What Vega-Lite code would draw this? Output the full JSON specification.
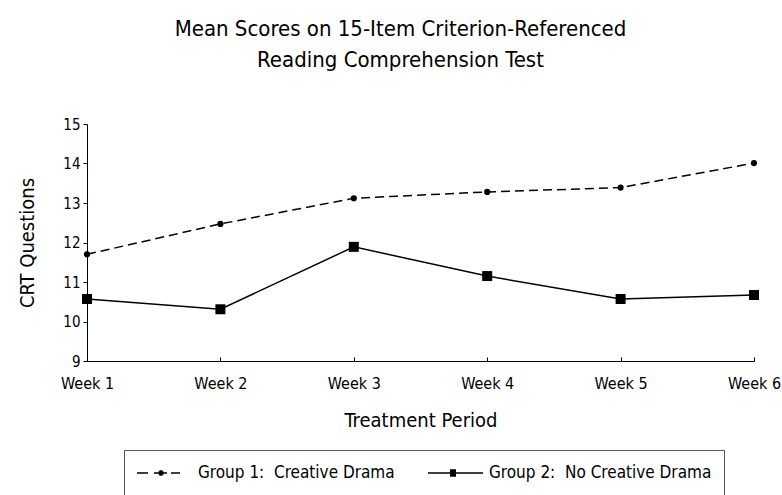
{
  "$schema": "https://vega.github.io/schema/vega-lite/v6.json",
  "width": 667,
  "height": 237,
  "autosize": {"type": "none"},
  "padding": {"left": 87, "top": 124, "right": 28, "bottom": 134},
  "background": "white",
  "config": {"font": "DejaVu Sans Condensed", "view": {"stroke": null}},
  "title": {
    "text": ["Mean Scores on 15-Item Criterion-Referenced", "Reading Comprehension Test"],
    "fontSize": 22,
    "fontWeight": "normal",
    "color": "black",
    "lineHeight": 31,
    "anchor": "middle",
    "dx": -20,
    "offset": 45
  },
  "data": {
    "values": [
      {"week": "Week 1", "group": "Group 1:\u00a0 Creative Drama", "score": 11.70},
      {"week": "Week 2", "group": "Group 1:\u00a0 Creative Drama", "score": 12.47},
      {"week": "Week 3", "group": "Group 1:\u00a0 Creative Drama", "score": 13.12},
      {"week": "Week 4", "group": "Group 1:\u00a0 Creative Drama", "score": 13.28},
      {"week": "Week 5", "group": "Group 1:\u00a0 Creative Drama", "score": 13.39},
      {"week": "Week 6", "group": "Group 1:\u00a0 Creative Drama", "score": 14.01},
      {"week": "Week 1", "group": "Group 2:\u00a0 No Creative Drama", "score": 10.57},
      {"week": "Week 2", "group": "Group 2:\u00a0 No Creative Drama", "score": 10.31},
      {"week": "Week 3", "group": "Group 2:\u00a0 No Creative Drama", "score": 11.89},
      {"week": "Week 4", "group": "Group 2:\u00a0 No Creative Drama", "score": 11.15},
      {"week": "Week 5", "group": "Group 2:\u00a0 No Creative Drama", "score": 10.57},
      {"week": "Week 6", "group": "Group 2:\u00a0 No Creative Drama", "score": 10.67}
    ]
  },
  "encoding": {
    "x": {
      "field": "week",
      "type": "ordinal",
      "scale": {"type": "point", "padding": 0},
      "axis": {
        "title": "Treatment Period",
        "labelAngle": 0,
        "domainColor": "black",
        "tickColor": "black",
        "tickSize": -4,
        "labelPadding": 18,
        "labelFontSize": 16,
        "labelColor": "black",
        "titleFontSize": 20,
        "titleFontWeight": "normal",
        "titleColor": "black",
        "titlePadding": 19
      }
    },
    "y": {
      "field": "score",
      "type": "quantitative",
      "scale": {"domain": [9, 15], "nice": false, "zero": false},
      "axis": {
        "title": "CRT Questions",
        "values": [9, 10, 11, 12, 13, 14, 15],
        "grid": false,
        "domainColor": "black",
        "tickColor": "black",
        "tickSize": 4,
        "labelPadding": 3,
        "labelFontSize": 15,
        "labelColor": "black",
        "titleFontSize": 20,
        "titleFontWeight": "normal",
        "titleColor": "black",
        "titlePadding": 25
      }
    }
  },
  "layer": [
    {
      "transform": [{"filter": "datum.group == 'Group 1:\u00a0 Creative Drama'"}],
      "mark": {"type": "line", "color": "black", "strokeWidth": 1.5, "strokeDash": [9, 5]}
    },
    {
      "transform": [{"filter": "datum.group == 'Group 2:\u00a0 No Creative Drama'"}],
      "mark": {"type": "line", "color": "black", "strokeWidth": 1.5}
    },
    {
      "transform": [{"filter": "datum.group == 'Group 1:\u00a0 Creative Drama'"}],
      "mark": {"type": "point", "shape": "circle", "filled": true, "color": "black", "opacity": 1, "size": 38}
    },
    {
      "transform": [{"filter": "datum.group == 'Group 2:\u00a0 No Creative Drama'"}],
      "mark": {"type": "point", "shape": "square", "filled": true, "color": "black", "opacity": 1, "size": 100}
    },
    {
      "mark": {"type": "point", "filled": false, "color": "black", "strokeWidth": 1.5, "opacity": 0},
      "encoding": {
        "shape": {
          "field": "group",
          "type": "nominal",
          "scale": {
            "domain": ["Group 1:\u00a0 Creative Drama", "Group 2:\u00a0 No Creative Drama"],
            "range": [
              "M-1,0H0.1M0.7,0H2M2.4,0H3.3M1.25,-0.2H1.55M1.15,-0.1H1.65M1.1,0H1.7M1.15,0.1H1.65M1.25,0.2H1.55",
              "M-1,0H4.5M1.2,-0.3H1.8M1.2,-0.15H1.8M1.2,0.15H1.8M1.2,0.3H1.8"
            ]
          },
          "legend": {
            "title": " ",
            "titleOrient": "bottom",
            "titleFontSize": 10,
            "titlePadding": 6,
            "orient": "none",
            "legendX": 37,
            "legendY": 326,
            "direction": "horizontal",
            "symbolSize": 400,
            "symbolOffset": 0,
            "labelFontSize": 17,
            "labelColor": "black",
            "labelOffset": 40,
            "labelLimit": 400,
            "columnPadding": 30,
            "gridAlign": "none",
            "padding": 12,
            "strokeColor": "#555555",
            "symbolOpacity": 1,
            "symbolStrokeColor": "black",
            "symbolStrokeWidth": 1.5,
            "encode": {
              "symbols": {
                "stroke": {"value": "black"},
                "strokeWidth": {"value": 1.5},
                "opacity": {"value": 1}
              }
            }
          }
        }
      }
    }
  ]
}
